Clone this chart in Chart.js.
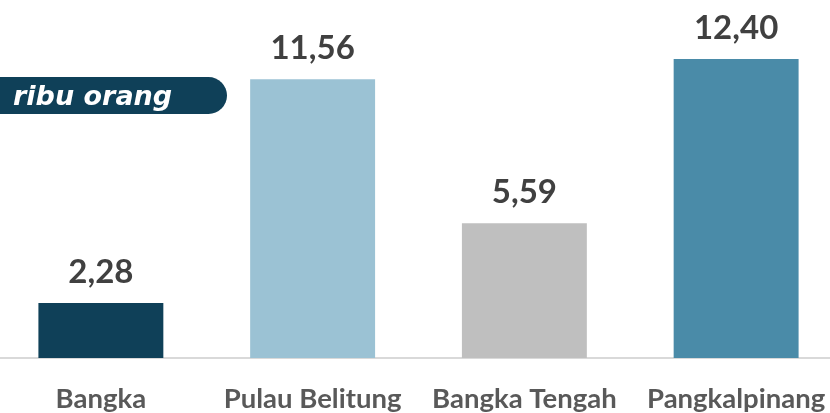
<!DOCTYPE html>
<html>
<head>
<meta charset="utf-8">
<script src="https://cdn.jsdelivr.net/npm/chart.js@4.4.1/dist/chart.umd.min.js"></script>
<style>
  html, body { margin: 0; padding: 0; width: 830px; height: 413px; overflow: hidden; background: #fff; }
  #wrap { position: absolute; left: -5px; top: 0; width: 847px; height: 413px; }
  #tag { position: absolute; left: 0; top: 77px; width: 227px; height: 37px; background: #0F4058;
         border-radius: 0 18.5px 18.5px 0; color: #fff; font-family: 'DejaVu Sans', Lato, sans-serif;
         font-weight: bold; font-style: italic; font-size: 27px; line-height: 37px; padding-left: 13px; box-sizing: border-box; white-space: nowrap; }
</style>
</head>
<body>
<div id="wrap"><canvas id="c"></canvas></div>
<div id="tag">ribu orang</div>
<script>
const categories = ["Bangka", "Pulau Belitung", "Bangka Tengah", "Pangkalpinang"];
const values = [2.28, 11.56, 5.59, 12.40];
const colors = ["#0F4058", "#9BC2D4", "#BFBFBF", "#4A8BA8"];

const valueLabels = {
  id: 'valueLabels',
  afterDatasetsDraw(chart) {
    const ctx = chart.ctx;
    const meta = chart.getDatasetMeta(0);
    ctx.save();
    ctx.font = "bold 33px Lato, 'Open Sans', sans-serif";
    ctx.fillStyle = "#404040";
    ctx.textAlign = "center";
    ctx.textBaseline = "alphabetic";
    meta.data.forEach((bar, i) => {
      ctx.fillText(values[i].toFixed(2).replace('.', ','), bar.x, bar.y - 20);
    });
    ctx.restore();
  }
};

new Chart(document.getElementById('c'), {
  type: 'bar',
  data: {
    labels: categories,
    datasets: [{ data: values, backgroundColor: colors, barPercentage: 0.59, categoryPercentage: 1.0 }]
  },
  options: {
    responsive: true,
    maintainAspectRatio: false,
    animation: false,
    layout: { padding: 0 },
    plugins: { legend: { display: false }, tooltip: { enabled: false } },
    scales: {
      y: { display: false, min: 0, max: 14.85 },
      x: {
        grid: { display: false, drawTicks: false },
        border: { display: true, color: '#D9D9D9', width: 2 },
        ticks: { color: '#595959', font: { family: "Lato, 'Open Sans', sans-serif", weight: 'bold', size: 27.5 }, padding: 25, maxRotation: 0, autoSkip: false },
        afterFit(scale) { scale.height = 55; scale.paddingLeft = 0; scale.paddingRight = 0; }
      }
    }
  },
  plugins: [valueLabels]
});
</script>
</body>
</html>
